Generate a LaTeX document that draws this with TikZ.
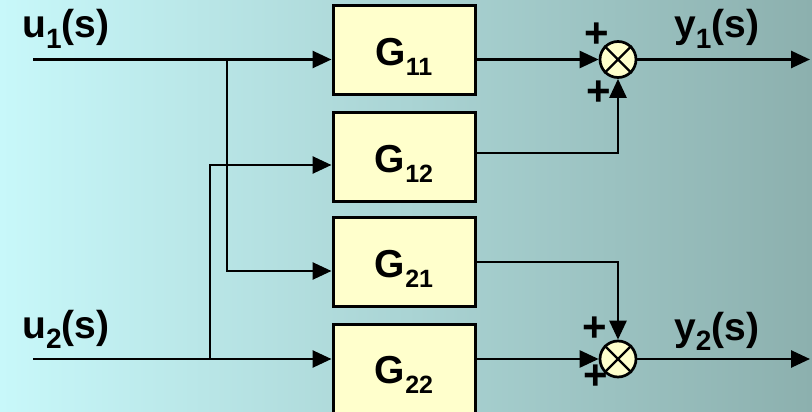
\documentclass[tikz,border=0pt]{standalone}
\usepackage{fontspec}
\setmainfont{Liberation Sans}
\usetikzlibrary{arrows.meta,calc}
\definecolor{bgL}{HTML}{C8F8FA}
\definecolor{bgR}{HTML}{8CB0AE}
\definecolor{boxfill}{HTML}{FFFFCC}
\newcommand\mysubG[1]{\raisebox{-10pt}{\fontsize{25}{25}\selectfont #1}}
\newcommand\mysubL[1]{\raisebox{-10pt}{\fontsize{28}{28}\selectfont #1}}
\begin{document}
\begin{tikzpicture}[x=1pt,y=-1pt,
  blk/.style={draw=black, line width=3pt, fill=boxfill, minimum width=142pt,
    minimum height=89pt, inner sep=0pt, text height=30pt, text depth=0pt,
    font=\fontsize{39}{39}\selectfont\bfseries},
  sig/.style={line width=2.7pt, -{Triangle[length=19pt,width=17pt]}},
  sumj/.style={circle, draw=black, line width=2.7pt, fill=boxfill, minimum size=36pt, inner sep=0pt},
  lbl/.style={font=\fontsize{39}{39}\selectfont\bfseries, anchor=base west, inner sep=0pt},
  pl/.style={font=\fontsize{42}{42}\selectfont\bfseries, inner sep=0pt}]
\shade[left color=bgL, right color=bgR] (0,0) rectangle (812,412);
\useasboundingbox (0,0) rectangle (812,412);

% blocks
\node[blk] (G11) at (404,50.5) {G\mysubG{11}};
\node[blk] (G12) at (404,157) {G\mysubG{12}};
\node[blk] (G21) at (404,262) {G\mysubG{21}};
\node[blk] (G22) at (404,368.5) {G\mysubG{22}};

% summing junctions
\node[sumj] (J1) at (618,59.5) {};
\draw[line width=2.2pt] (J1.north west) -- (J1.south east) (J1.north east) -- (J1.south west);
\node[sumj] (J2) at (618,359) {};
\draw[line width=2.2pt] (J2.north west) -- (J2.south east) (J2.north east) -- (J2.south west);

% helper coordinates
\coordinate (u1s) at (33,59.5);
\coordinate (u2s) at (33,359);
\coordinate (b1) at (227,59.5);
\coordinate (r21) at (227,271);
\coordinate (b2) at (210,359);
\coordinate (r12) at (210,165);
\coordinate (o12) at (475,153);
\coordinate (o21) at (475,262);
\coordinate (y1e) at (810,59.5);
\coordinate (y2e) at (810,359);

% inputs
\draw[sig] (u1s) -- (G11.west |- u1s);
\draw[sig] (b1) |- (G21.west |- r21);
\draw[sig] (u2s) -- (G22.west |- u2s);
\draw[sig] (b2) |- (G12.west |- r12);

% outputs
\draw[sig] (G11.east |- J1) -- (J1);
\draw[sig] (G12.east |- o12) -| (J1);
\draw[sig] (G21.east |- o21) -| (J2);
\draw[sig] (G22.east |- J2) -- (J2);
\draw[sig] (J1) -- (y1e);
\draw[sig] (J2) -- (y2e);

% signs
\node[pl] (p1a) at (597,35) {+};
\node[pl] (p1b) at (599,93) {+};
\node[pl] (p2a) at (595,329) {+};
\node[pl] (p2b) at (596,377) {+};

% labels
\node[lbl] (lu1) at (22,38) {u\mysubL{1}(s)};
\node[lbl] (lu2) at (22,338) {u\mysubL{2}(s)};
\node[lbl] (ly1) at (674,38) {y\mysubL{1}(s)};
\node[lbl] (ly2) at (674,340) {y\mysubL{2}(s)};
\end{tikzpicture}
\end{document}
